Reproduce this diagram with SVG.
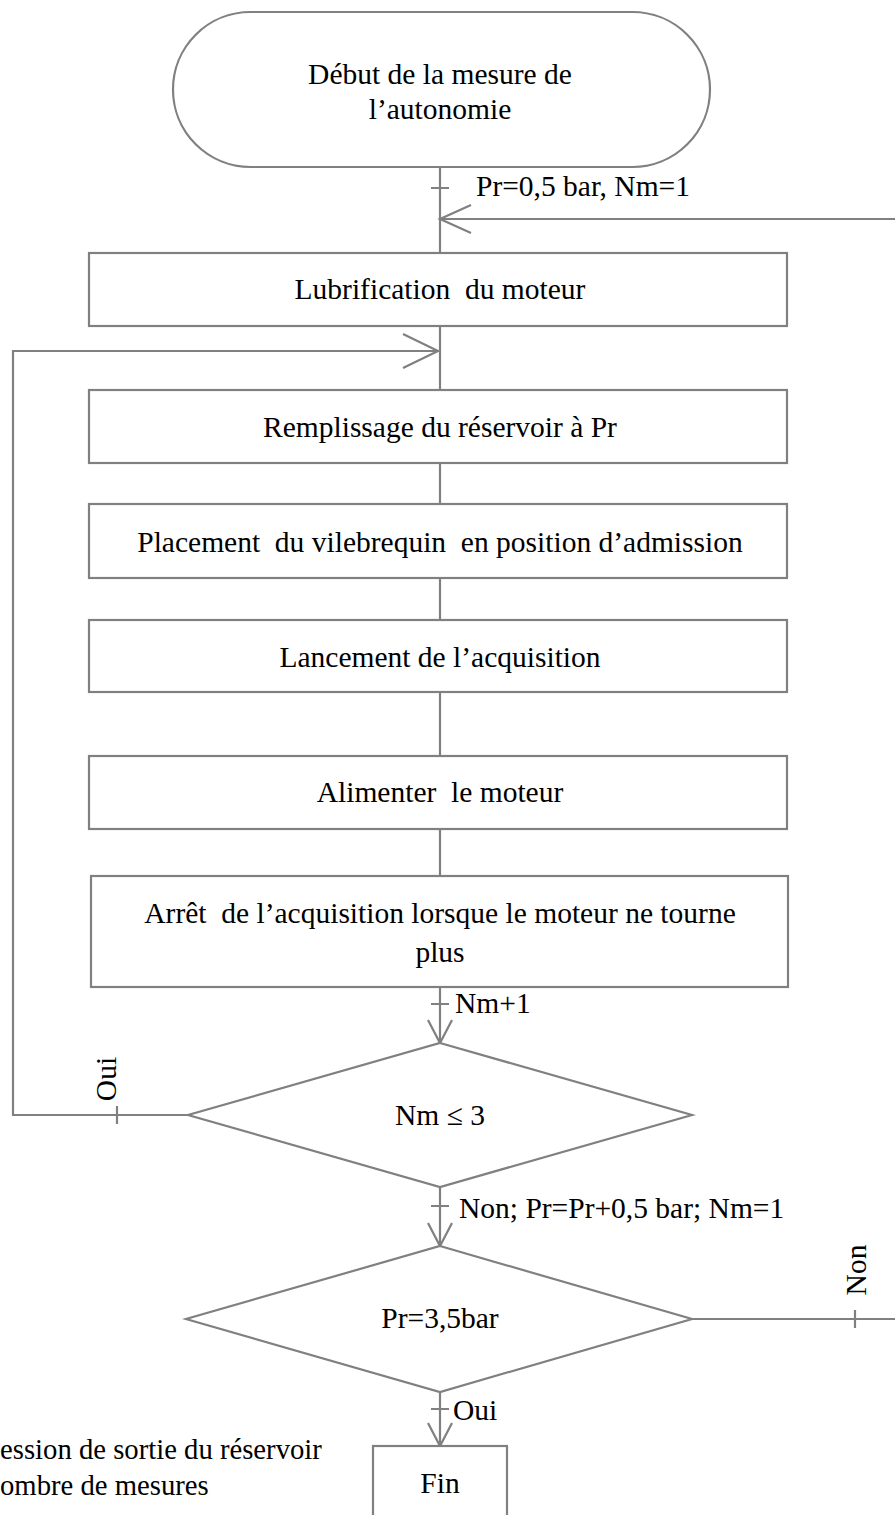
<svg xmlns="http://www.w3.org/2000/svg" width="895" height="1515" viewBox="0 0 895 1515">
<style>
.s{fill:#fff;stroke:#808080;stroke-width:2.2}
.c{fill:none;stroke:#808080;stroke-width:2.2}
.t{font-family:"Liberation Serif","Times New Roman",serif;font-size:29.5px;fill:#000}
.l{font-size:28.7px}
.m{text-anchor:middle}
</style>
<rect width="895" height="1515" fill="#fff"/>
<g id="connectors">
<path class="c" d="M440 167V253M440 326V390M440 463V504M440 578V620M440 692V756M440 829V876M440 987V1043M440 1187V1246M440 1392V1446"/>
<path class="c" d="M895 219H440M471 205L440 219L471 233"/>
<path class="c" d="M188 1115H13V351H438M403 334L438 351L403 368"/>
<path class="c" d="M692 1319H895"/>
<path class="c" d="M431 188H449M431 1004H449M431 1206H449M431 1409H449M117 1106V1124M855 1310V1328"/>
<path class="c" d="M428 1020L440 1043L452 1020M428 1223L440 1246L452 1223M428 1423L440 1446L452 1423"/>
<text class="t" x="476" y="196">Pr=0,5 bar, Nm=1</text>
<text class="t" x="455" y="1013">Nm+1</text>
<text class="t" x="459" y="1218">Non; Pr=Pr+0,5 bar; Nm=1</text>
<text class="t" x="453" y="1420">Oui</text>
<text class="t m" transform="translate(116 1079) rotate(-90)">Oui</text>
<text class="t m" transform="translate(866 1270) rotate(-90)">Non</text>
</g>
<g id="start">
<rect class="s" x="173" y="12" width="537" height="155" rx="77.5"/>
<text class="t m" x="440" y="84">Début de la mesure de</text>
<text class="t m" x="440" y="119">l’autonomie</text>
</g>
<g id="n1"><rect class="s" x="89" y="253" width="698" height="73"/><text class="t m" x="440" y="299" xml:space="preserve">Lubrification  du moteur</text></g>
<g id="n2"><rect class="s" x="89" y="390" width="698" height="73"/><text class="t m" x="440" y="437">Remplissage du réservoir à Pr</text></g>
<g id="n3"><rect class="s" x="89" y="504" width="698" height="74"/><text class="t m" x="440" y="552" xml:space="preserve">Placement  du vilebrequin  en position d’admission</text></g>
<g id="n4"><rect class="s" x="89" y="620" width="698" height="72"/><text class="t m" x="440" y="667">Lancement de l’acquisition</text></g>
<g id="n5"><rect class="s" x="89" y="756" width="698" height="73"/><text class="t m" x="440" y="802" xml:space="preserve">Alimenter  le moteur</text></g>
<g id="n6"><rect class="s" x="91" y="876" width="697" height="111"/><text class="t m" x="440" y="923" xml:space="preserve">Arrêt  de l’acquisition lorsque le moteur ne tourne</text><text class="t m" x="440" y="962">plus</text></g>
<g id="d1"><polygon class="s" points="440,1043 692,1115 440,1187 188,1115"/><text class="t m" x="440" y="1125">Nm ≤ 3</text></g>
<g id="d2"><polygon class="s" points="440,1246 692,1319 440,1392 186,1319"/><text class="t m" x="440" y="1328">Pr=3,5bar</text></g>
<g id="fin"><rect class="s" x="373" y="1446" width="134" height="90"/><text class="t m" x="440" y="1493">Fin</text></g>
<g id="legend">
<text class="t l" x="0" y="1459">ession de sortie du réservoir</text>
<text class="t l" x="0" y="1495">ombre de mesures</text>
</g>
</svg>
